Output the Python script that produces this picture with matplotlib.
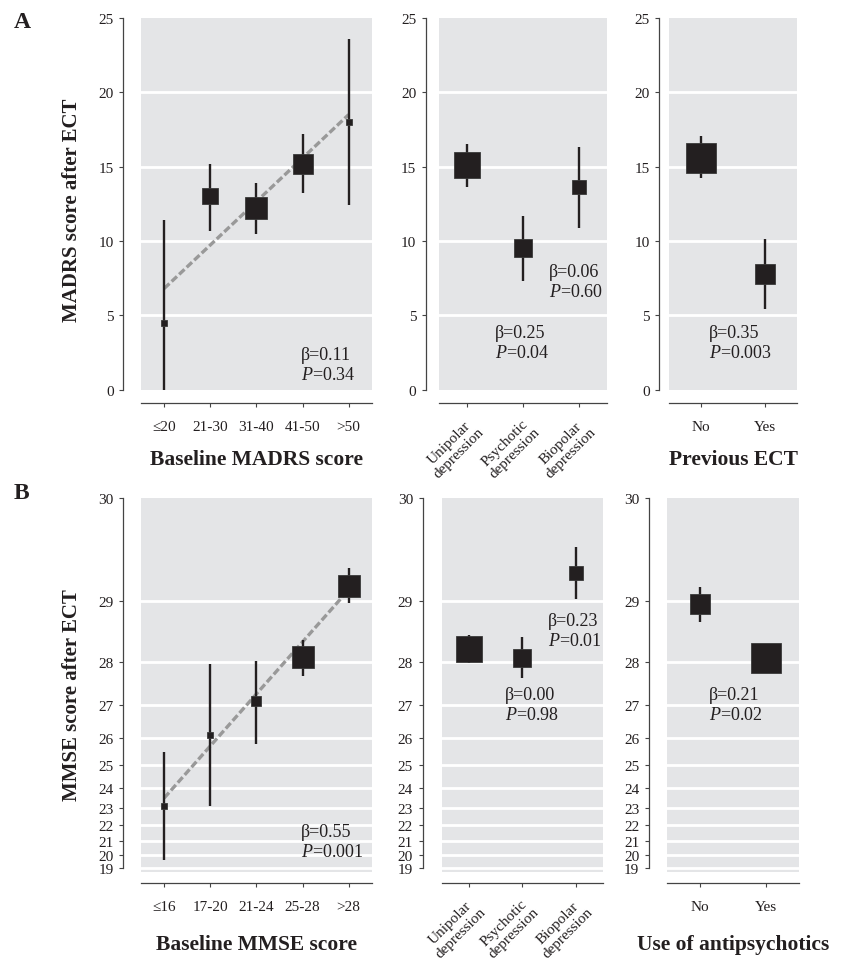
import numpy as np
import matplotlib
matplotlib.use("Agg")
import matplotlib.pyplot as plt
from matplotlib.transforms import ScaledTranslation

plt.rcParams["font.family"] = ["Liberation Serif", "DejaVu Serif"]
plt.rcParams["mathtext.fontset"] = "custom"
plt.rcParams["mathtext.rm"] = "Liberation Serif"
plt.rcParams["mathtext.it"] = "Liberation Serif:italic"

# ── data ─────────────────────────────────────────────────────────────────────
madrs_groups = ["≤20", "21-30", "31-40", "41-50", ">50"]
madrs_mean = [4.5, 13.0, 12.2, 15.2, 18.0]
madrs_lo = [0.0, 10.7, 10.5, 13.2, 12.4]
madrs_hi = [11.4, 15.2, 13.9, 17.2, 23.6]
madrs_size = [4.5, 12, 16, 14.5, 5]
madrs_trend = [6.8, 18.5]

diag_groups = ["Unipolar\ndepression", "Psychotic\ndepression", "Biopolar\ndepression"]
diag_madrs_mean = [15.1, 9.5, 13.6]
diag_madrs_lo = [13.6, 7.3, 10.85]
diag_madrs_hi = [16.5, 11.65, 16.35]
diag_madrs_size = [19, 13, 10]

ect_groups = ["No", "Yes"]
ect_mean = [15.6, 7.8]
ect_lo = [14.25, 5.45]
ect_hi = [17.05, 10.15]
ect_size = [21, 14]

mmse_groups = ["≤16", "17-20", "21-24", "25-28", ">28"]
mmse_mean = [23.1, 26.1, 27.1, 28.1, 29.2]
mmse_lo = [19.6, 23.1, 25.8, 27.7, 28.98]
mmse_hi = [25.5, 27.95, 28.02, 28.4, 29.4]
mmse_size = [5, 4, 6.5, 16.5, 16.5]
mmse_trend = [23.5, 29.15]

diag_mmse_mean = [28.25, 28.08, 29.35]
diag_mmse_lo = [27.97, 27.65, 29.03]
diag_mmse_hi = [28.5, 28.46, 29.61]
diag_mmse_size = [18.5, 13, 10]

antipsy_groups = ["No", "Yes"]
antipsy_mean = [28.96, 28.08]
antipsy_lo = [28.71, 27.85]
antipsy_hi = [29.19, 28.3]
antipsy_size = [14.5, 21]

madrs_ticks = [0, 5, 10, 15, 20, 25]
mmse_ticks = list(range(19, 31))

INK = "#231f20"
PANEL_BG = "#e4e5e7"


# ── helpers ──────────────────────────────────────────────────────────────────

def mmse_fwd(y):
    return -np.log(np.clip(31 - np.asarray(y, dtype=float), 1e-6, None))


def mmse_inv(t):
    return 31 - np.exp(-np.asarray(t, dtype=float))


def stat_text(ax, fx, fy, beta, p):
    ax.text(fx, fy, f"β={beta}\n$P$={p}", transform=ax.transAxes,
            ha="left", va="center", fontsize=13, color=INK, linespacing=1.25)


def draw_panel(ax, groups, mean, lo, hi, sizes, ticks, left_off, bottom_off,
               mmse=False, trend=None, rotate=False, xlabel=None, labelpad=8):
    x = np.arange(len(groups))
    ax.set_facecolor(PANEL_BG)
    if mmse:
        ax.set_yscale("function", functions=(mmse_fwd, mmse_inv))
        ax.set_ylim(18.7, 30)
    else:
        ax.set_ylim(0, 25)
    ax.set_xlim(-0.5, len(groups) - 0.5)
    ax.set_yticks(ticks)
    ax.set_yticklabels([str(t) for t in ticks])
    ax.yaxis.set_minor_locator(matplotlib.ticker.NullLocator())
    for t in ticks[1:-1] if not mmse else ticks[:-1]:
        ax.axhline(t, color="white", lw=2, zorder=1)

    if trend is not None:
        ax.plot([x[0], x[-1]], trend, color="#999999", lw=2.4,
                dashes=(2.2, 0.9), zorder=2)
    ax.vlines(x, lo, hi, color=INK, lw=1.7, zorder=3)
    for xi, m, s in zip(x, mean, sizes):
        ax.plot(xi, m, marker="s", ms=s, color=INK, mec="#3a3a3a",
                mew=0.6, zorder=4, linestyle="none")

    for side in ("top", "right"):
        ax.spines[side].set_visible(False)
    ax.spines["left"].set_position(("outward", left_off))
    ax.spines["bottom"].set_position(("outward", bottom_off))
    for side in ("left", "bottom"):
        ax.spines[side].set_color("#444444")
        ax.spines[side].set_linewidth(0.9)
    if mmse:
        ax.spines["left"].set_bounds(19, 30)

    ax.tick_params(axis="both", direction="out", length=3, width=0.8,
                   color="#444444", labelcolor=INK, labelsize=11)
    ax.tick_params(axis="y", pad=4)
    ax.set_xticks(x)
    if rotate:
        ax.set_xticklabels(groups, rotation=45, ha="right", va="center",
                           rotation_mode="anchor", fontsize=11,
                           multialignment="center", linespacing=1.1)
        ax.tick_params(axis="x", pad=12)
        shift = ScaledTranslation(0.10, 0, ax.figure.dpi_scale_trans)
        for lab in ax.get_xticklabels():
            lab.set_transform(lab.get_transform() + shift)
    else:
        ax.set_xticklabels(groups)
        ax.tick_params(axis="x", pad=9)
    if xlabel:
        ax.set_xlabel(xlabel, fontsize=15.5, fontweight="bold", color=INK,
                      labelpad=labelpad)


# ── figure ───────────────────────────────────────────────────────────────────

fig = plt.figure(figsize=(8.42, 9.62), dpi=100)

ax_a1 = fig.add_axes([0.1675, 0.5939, 0.2740, 0.3864])
ax_a2 = fig.add_axes([0.5217, 0.5939, 0.1988, 0.3864])
ax_a3 = fig.add_axes([0.7949, 0.5939, 0.1513, 0.3864])
ax_b1 = fig.add_axes([0.1675, 0.0928, 0.2740, 0.3882])
ax_b2 = fig.add_axes([0.5246, 0.0928, 0.1912, 0.3882])
ax_b3 = fig.add_axes([0.7918, 0.0928, 0.1571, 0.3882])

draw_panel(ax_a1, madrs_groups, madrs_mean, madrs_lo, madrs_hi, madrs_size,
           madrs_ticks, 12.7, 9.8, trend=madrs_trend,
           xlabel="Baseline MADRS score", labelpad=11.5)
draw_panel(ax_a2, diag_groups, diag_madrs_mean, diag_madrs_lo, diag_madrs_hi,
           diag_madrs_size, madrs_ticks, 9.6, 9.8, rotate=True)
draw_panel(ax_a3, ect_groups, ect_mean, ect_lo, ect_hi, ect_size,
           madrs_ticks, 7.2, 9.8, xlabel="Previous ECT", labelpad=11.5)

draw_panel(ax_b1, mmse_groups, mmse_mean, mmse_lo, mmse_hi, mmse_size,
           mmse_ticks, 12.7, 8.4, mmse=True, trend=mmse_trend,
           xlabel="Baseline MMSE score", labelpad=15)
draw_panel(ax_b2, diag_groups, diag_mmse_mean, diag_mmse_lo, diag_mmse_hi,
           diag_mmse_size, mmse_ticks, 13.7, 8.4, mmse=True, rotate=True)
draw_panel(ax_b3, antipsy_groups, antipsy_mean, antipsy_lo, antipsy_hi,
           antipsy_size, mmse_ticks, 12.7, 8.4, mmse=True,
           xlabel="Use of antipsychotics", labelpad=15)

stat_text(ax_a1, 0.694, 0.068, "0.11", "0.34")
stat_text(ax_a2, 0.655, 0.292, "0.06", "0.60")
stat_text(ax_a2, 0.333, 0.126, "0.25", "0.04")
stat_text(ax_a3, 0.312, 0.126, "0.35", "0.003")
stat_text(ax_b1, 0.694, 0.080, "0.55", "0.001")
stat_text(ax_b2, 0.662, 0.645, "0.23", "0.01")
stat_text(ax_b2, 0.393, 0.447, "0.00", "0.98")
stat_text(ax_b3, 0.322, 0.447, "0.21", "0.02")

fig.text(0.0855, 0.7817, "MADRS score after ECT", rotation=90, ha="center",
         va="center", fontsize=15, fontweight="bold", color=INK)
fig.text(0.0855, 0.2775, "MMSE score after ECT", rotation=90, ha="center",
         va="center", fontsize=15, fontweight="bold", color=INK)
fig.text(0.026, 0.977, "A", ha="center", va="center", fontsize=17,
         fontweight="bold", color=INK)
fig.text(0.025, 0.487, "B", ha="center", va="center", fontsize=17,
         fontweight="bold", color=INK)

fig.savefig("out.png", dpi=100)
plt.close(fig)
